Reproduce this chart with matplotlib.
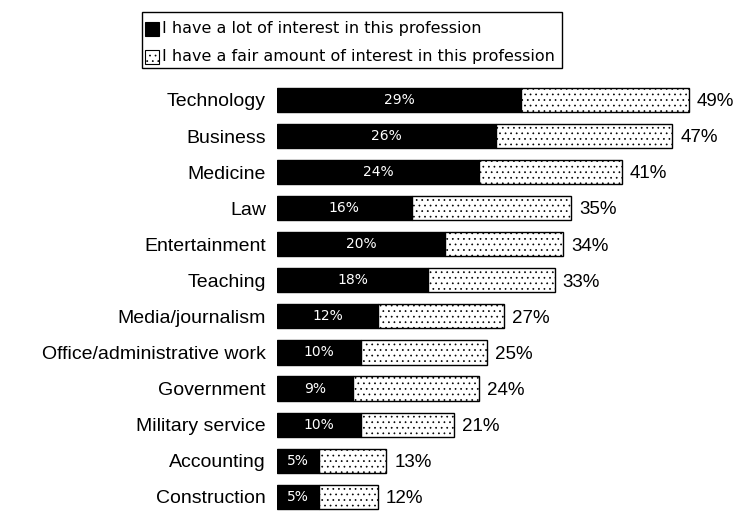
import matplotlib
matplotlib.use("Agg")
import matplotlib.pyplot as plt
from matplotlib.patches import Rectangle

professions = ["Technology", "Business", "Medicine", "Law", "Entertainment",
               "Teaching", "Media/journalism", "Office/administrative work",
               "Government", "Military service", "Accounting", "Construction"]
lot_interest = [29, 26, 24, 16, 20, 18, 12, 10, 9, 10, 5, 5]
total_interest = [49, 47, 41, 35, 34, 33, 27, 25, 24, 21, 13, 12]
fair_interest = [t - l for t, l in zip(total_interest, lot_interest)]

legend_labels = ["I have a lot of interest in this profession",
                 "I have a fair amount of interest in this profession"]

W, H = 740, 513
plt.rcParams["hatch.linewidth"] = 0.5
SANS = ["Liberation Sans", "DejaVu Sans"]

fig = plt.figure(figsize=(W / 100, H / 100), dpi=100)
ax = fig.add_axes([277 / W, 0.0, 0.625, 0.8474])

ypos = list(range(len(professions)))
ax.barh(ypos, lot_interest, height=0.67, color="black", edgecolor="black", lw=1)
ax.barh(ypos, fair_interest, left=lot_interest, height=0.67, color="white",
        edgecolor="black", hatch="...", lw=1)

for y, lot, tot in zip(ypos, lot_interest, total_interest):
    ax.text(lot / 2, y, f"{lot}%", color="white", ha="center", va="center",
            fontsize=10, family="DejaVu Sans")
    ax.text(tot + 0.95, y + 0.05, f"{tot}%", color="black", ha="left",
            va="center", fontsize=13.5, family=SANS)

ax.set_xlim(0, 55)
ax.set_ylim(11.45, -0.6)
ax.set_yticks(ypos)
ax.set_yticklabels(professions, fontsize=14, family=SANS)
ax.tick_params(axis="y", length=0, pad=8)
ax.set_xticks([])
for s in ax.spines.values():
    s.set_visible(False)


def fx(px):
    return px / W


def fy(py):
    return 1 - py / H


# legend box with two keyed rows
fig.patches.append(Rectangle((fx(142), fy(68)), fx(562) - fx(142), fy(12) - fy(68),
                             transform=fig.transFigure, facecolor="white",
                             edgecolor="black", lw=1))
rows = [(29, dict(facecolor="black")), (57, dict(facecolor="white", hatch="..."))]
for (cy, style), label in zip(rows, legend_labels):
    fig.patches.append(Rectangle((fx(145), fy(cy + 7)), fx(14), 14 / H,
                                 transform=fig.transFigure, edgecolor="black",
                                 lw=0.8, **style))
    fig.text(fx(162), fy(cy), label, ha="left", va="center",
             fontsize=11.5, family="DejaVu Sans")

fig.savefig("out.png", dpi=100)
